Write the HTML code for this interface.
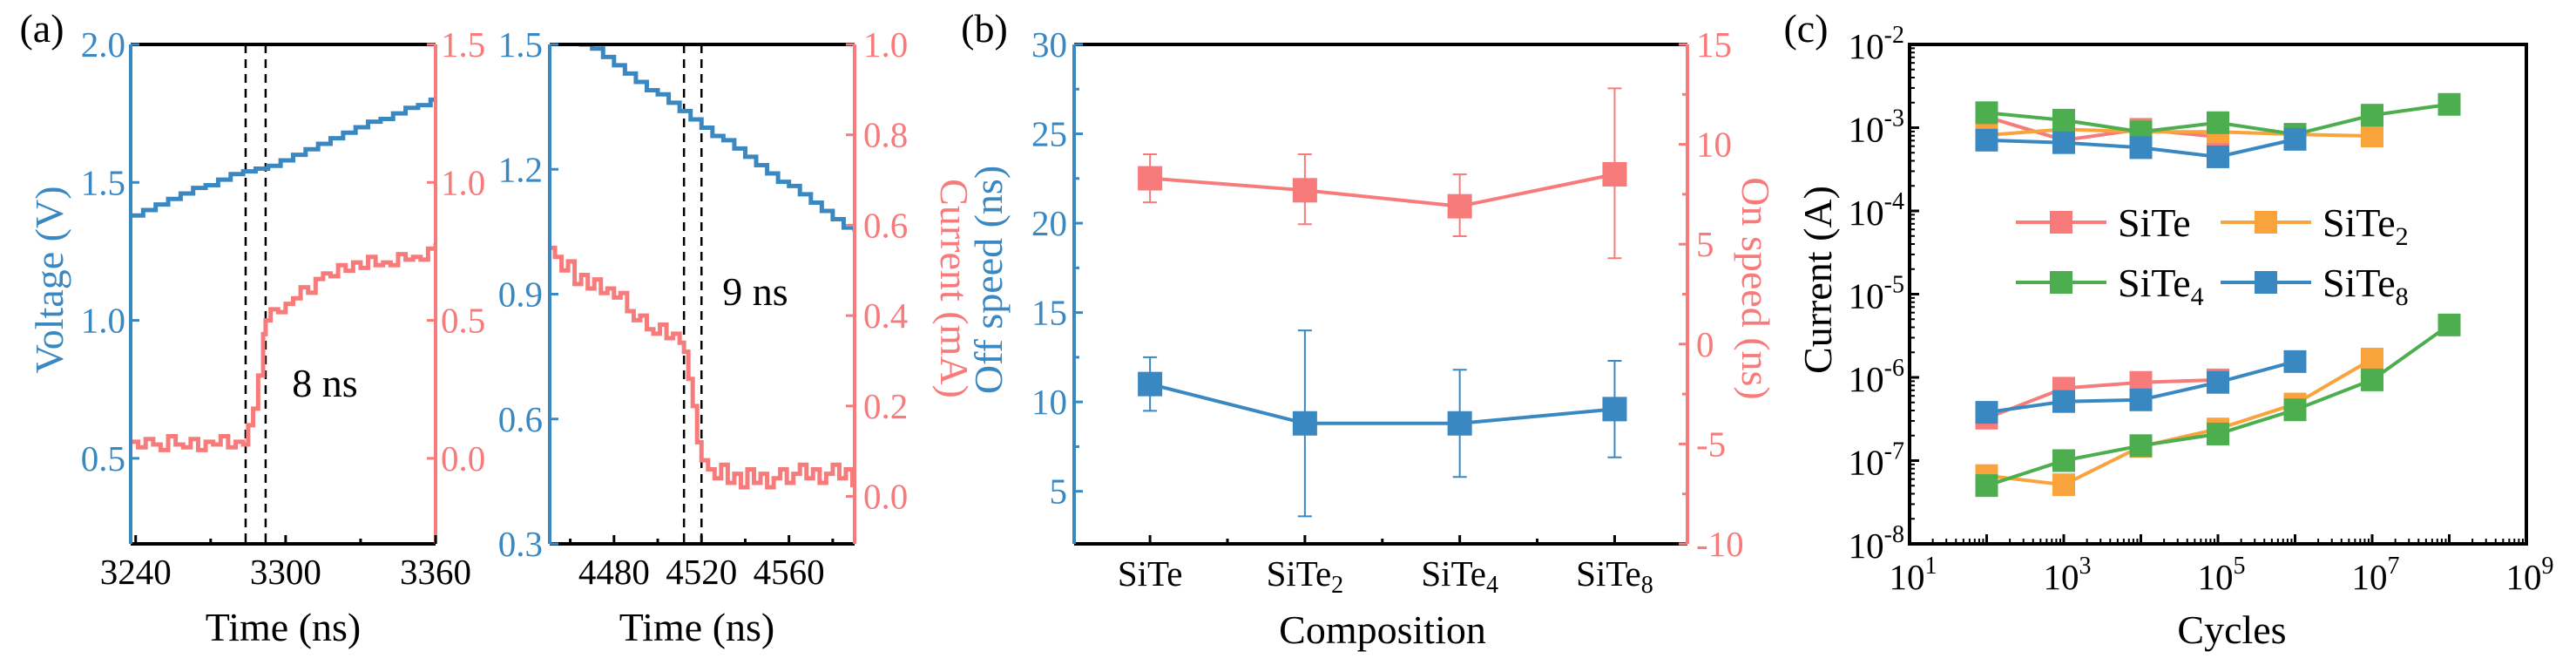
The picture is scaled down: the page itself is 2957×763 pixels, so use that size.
<!DOCTYPE html>
<html><head><meta charset="utf-8"><style>
html,body{margin:0;padding:0;background:#fff;}
svg{display:block;}
text{font-family:"Liberation Serif","DejaVu Serif",serif;}
</style></head><body>
<svg id="fig" width="2957" height="763" viewBox="0 0 2957 763" xmlns="http://www.w3.org/2000/svg" font-family="Liberation Serif, DejaVu Serif, serif"></svg>
<script>
// ---------- DATA ----------
const a1BlueT=[3238,3243,3248,3253,3258,3263,3268,3273,3278,3283,3288,3293,3298,3303,3308,3313,3318,3323,3328,3333,3338,3343,3348,3353,3358,3360];
const a1BlueV=[1.38,1.40,1.42,1.44,1.46,1.48,1.49,1.51,1.53,1.54,1.55,1.56,1.58,1.60,1.62,1.64,1.66,1.68,1.70,1.72,1.73,1.75,1.77,1.78,1.80,1.80];
const a1RedT=[3238,3241,3244,3247,3250,3253,3256,3259,3262,3265,3268,3271,3274,3277,3280,3283,3285,3287,3289,3291,3292,3294,3297,3300,3303,3306,3309,3312,3315,3318,3321,3324,3327,3330,3333,3336,3339,3342,3345,3348,3351,3354,3357,3360];
const a1RedI=[0.06,0.04,0.07,0.05,0.03,0.08,0.05,0.04,0.07,0.03,0.06,0.05,0.08,0.04,0.06,0.05,0.12,0.18,0.30,0.45,0.50,0.54,0.53,0.56,0.58,0.62,0.60,0.65,0.67,0.66,0.70,0.68,0.71,0.69,0.73,0.70,0.71,0.70,0.74,0.72,0.73,0.72,0.76,0.78];
const a2BlueT=[4450,4455,4460,4465,4470,4475,4480,4485,4490,4495,4500,4505,4510,4515,4520,4525,4530,4535,4540,4545,4550,4555,4560,4565,4570,4575,4580,4585,4590];
const a2BlueV=[1.56,1.54,1.52,1.50,1.49,1.47,1.45,1.43,1.41,1.39,1.38,1.36,1.34,1.32,1.30,1.28,1.27,1.25,1.23,1.21,1.19,1.17,1.16,1.14,1.12,1.10,1.08,1.06,1.05];
const a2RedT=[4450,4453,4456,4459,4462,4465,4468,4471,4474,4477,4480,4483,4486,4489,4492,4495,4498,4501,4504,4507,4510,4512,4514,4516,4518,4520,4523,4526,4529,4532,4535,4538,4541,4544,4547,4550,4553,4556,4559,4562,4565,4568,4571,4574,4577,4580,4583,4586,4589];
const a2RedI=[0.55,0.53,0.50,0.52,0.47,0.49,0.46,0.48,0.45,0.46,0.44,0.45,0.41,0.39,0.40,0.37,0.36,0.38,0.35,0.36,0.34,0.32,0.26,0.20,0.12,0.08,0.06,0.04,0.07,0.03,0.05,0.02,0.06,0.03,0.05,0.02,0.04,0.06,0.03,0.05,0.07,0.04,0.06,0.03,0.05,0.07,0.04,0.06,0.02];
const bCats=["SiTe","SiTe","SiTe","SiTe"];
const bSubs=["","2","4","8"];
const bOff=[11.0,8.8,8.8,9.6];
const bOffErr=[1.5,5.2,3.0,2.7];
const bOn=[8.3,7.7,6.9,8.5];
const bOnHi=[9.5,9.5,8.5,12.8];
const bOnLo=[7.1,6.0,5.4,4.3];
const cXTicks=[1,3,5,7,9];
const cCyclesSiTe=[2,3,4,5];
const cHighSiTe=[-2.87,-3.15,-3.02,-3.11];
const cLowSiTe=[-6.49,-6.13,-6.06,-6.03];
const cCyclesSiTe2=[2,3,4,5,6,7];
const cHighSiTe2=[-3.09,-3.02,-3.05,-3.05,-3.08,-3.10];
const cLowSiTe2=[-7.18,-7.29,-6.83,-6.62,-6.32,-5.78];
const cCyclesSiTe4=[2,3,4,5,6,7,8];
const cHighSiTe4=[-2.82,-2.91,-3.05,-2.94,-3.08,-2.85,-2.72];
const cLowSiTe4=[-7.30,-7.00,-6.82,-6.68,-6.39,-6.03,-5.37];
const cCyclesSiTe8=[2,3,4,5,6];
const cHighSiTe8=[-3.15,-3.18,-3.24,-3.35,-3.14];
const cLowSiTe8=[-6.42,-6.29,-6.27,-6.06,-5.81];

// ---------- HELPERS ----------
const NS="http://www.w3.org/2000/svg";
const svg=document.getElementById('fig');
const BLUE="#3a88c2",RED="#f77b7b",ORANGE="#f9a33c",GREEN="#4cae4f";
const FONT="'Liberation Serif','DejaVu Serif',serif";
function mk(tag,attrs,parent){const e=document.createElementNS(NS,tag);for(const k in attrs)e.setAttribute(k,attrs[k]);(parent||svg).appendChild(e);return e;}
function txt(x,y,s,opt,parent){const a={x:x,y:y,'font-size':opt.size||40,fill:opt.fill||'#000','text-anchor':opt.anchor||'middle','font-family':FONT};if(opt.transform)a.transform=opt.transform;const e=mk('text',a,parent);e.textContent=s;return e;}
function lin(d0,d1,r0,r1){return v=>r0+(v-d0)*(r1-r0)/(d1-d0);}
function stepPath(xs,ys,sx,sy){let d='';for(let i=0;i<xs.length;i++){const X=sx(xs[i]),Y=sy(ys[i]);if(i===0)d+='M'+X+' '+Y;else{d+=' H'+X+' V'+Y;}}return d;}
function grp(name){const g=mk('g',{});return g;}
function clip(id,x,y,w,h){const cp=mk('clipPath',{id:id});mk('rect',{x:x,y:y,width:w,height:h},cp);}

const T=51,B=624;

// ---------- PANEL A1 ----------
(function(){
const L=150,R=500;
const g=grp('panel-a-left');
clip('ca1',L,T,R-L,B-T);
const sx=lin(3238,3360,L,R), sv=lin(0.19,2.0,B,T), si=lin(-0.31,1.5,B,T);
[3284,3292].forEach(t=>{const l=mk('line',{x1:sx(t),x2:sx(t),y1:T,y2:B,stroke:'#000','stroke-width':2.5,'stroke-dasharray':'10,7'},g);});
const pb=mk('path',{d:stepPath(a1BlueT,a1BlueV,sx,sv),fill:'none',stroke:BLUE,'stroke-width':5,'clip-path':'url(#ca1)'},g);

const pr=mk('path',{d:stepPath(a1RedT,a1RedI,sx,si),fill:'none',stroke:RED,'stroke-width':5,'clip-path':'url(#ca1)'},g);

mk('line',{x1:L,x2:R,y1:T,y2:T,stroke:'#000','stroke-width':4},g);
mk('line',{x1:L,x2:R,y1:B,y2:B,stroke:'#000','stroke-width':4},g);
mk('line',{x1:L,x2:L,y1:T,y2:B,stroke:BLUE,'stroke-width':4},g);
mk('line',{x1:R,x2:R,y1:T,y2:B,stroke:RED,'stroke-width':4},g);
[3240,3300,3360].forEach(t=>{mk('line',{x1:sx(t),x2:sx(t),y1:B,y2:B-10,stroke:'#000','stroke-width':3},g);txt(sx(t),670,String(t),{size:41},g);});
[3270,3330].forEach(t=>mk('line',{x1:sx(t),x2:sx(t),y1:B,y2:B-6,stroke:'#000','stroke-width':3},g));
[0.5,1.0,1.5,2.0].forEach(v=>{mk('line',{x1:L,x2:L+10,y1:sv(v),y2:sv(v),stroke:BLUE,'stroke-width':3},g);txt(L-6,sv(v)+14,v.toFixed(1),{size:41,fill:BLUE,anchor:'end'},g);});
[0.0,0.5,1.0,1.5].forEach(v=>{mk('line',{x1:R,x2:R-10,y1:si(v),y2:si(v),stroke:RED,'stroke-width':3},g);txt(R+6,si(v)+14,v.toFixed(1),{size:41,fill:RED,anchor:'start'},g);});
txt(325,735,'Time (ns)',{size:46},g);
txt(72,321,'Voltage (V)',{size:46,fill:BLUE,transform:'rotate(-90 72 321)'},g);
txt(373,455,'8 ns',{size:46},g);
txt(48,48,'(a)',{size:46},g);
})();

// ---------- PANEL A2 ----------
(function(){
const L=631,R=981;
const g=grp('panel-a-right');
clip('ca2',L,T,R-L,B-T);
const sx=lin(4450.6,4590,L,R), sv=lin(0.3,1.5,B,T), si=lin(-0.105,1.0,B,T);
[4512,4520].forEach(t=>{const l=mk('line',{x1:sx(t),x2:sx(t),y1:T,y2:B,stroke:'#000','stroke-width':2.5,'stroke-dasharray':'10,7'},g);});
const pb=mk('path',{d:stepPath(a2BlueT,a2BlueV,sx,sv),fill:'none',stroke:BLUE,'stroke-width':5,'clip-path':'url(#ca2)'},g);

const pr=mk('path',{d:stepPath(a2RedT,a2RedI,sx,si),fill:'none',stroke:RED,'stroke-width':5,'clip-path':'url(#ca2)'},g);

mk('line',{x1:L,x2:R,y1:T,y2:T,stroke:'#000','stroke-width':4},g);
mk('line',{x1:L,x2:R,y1:B,y2:B,stroke:'#000','stroke-width':4},g);
mk('line',{x1:L,x2:L,y1:T,y2:B,stroke:BLUE,'stroke-width':4},g);
mk('line',{x1:R,x2:R,y1:T,y2:B,stroke:RED,'stroke-width':4},g);
[4480,4520,4560].forEach(t=>{mk('line',{x1:sx(t),x2:sx(t),y1:B,y2:B-10,stroke:'#000','stroke-width':3},g);txt(sx(t),670,String(t),{size:41},g);});
[4460,4500,4540,4580].forEach(t=>mk('line',{x1:sx(t),x2:sx(t),y1:B,y2:B-6,stroke:'#000','stroke-width':3},g));
[0.3,0.6,0.9,1.2,1.5].forEach(v=>{mk('line',{x1:L,x2:L+10,y1:sv(v),y2:sv(v),stroke:BLUE,'stroke-width':3},g);txt(L-8,sv(v)+14,v.toFixed(1),{size:41,fill:BLUE,anchor:'end'},g);});
[0.0,0.2,0.4,0.6,0.8,1.0].forEach(v=>{mk('line',{x1:R,x2:R-10,y1:si(v),y2:si(v),stroke:RED,'stroke-width':3},g);txt(R+10,si(v)+14,v.toFixed(1),{size:41,fill:RED,anchor:'start'},g);});
txt(800,735,'Time (ns)',{size:46},g);
txt(1080,331,'Current (mA)',{size:46,fill:RED,transform:'rotate(90 1080 331)'},g);
txt(867,350,'9 ns',{size:46},g);
})();

// ---------- PANEL B ----------
(function(){
const L=1233,R=1937;
const g=grp('panel-b');
const sx=lin(-0.49,3.47,L,R), so=lin(2.06,30,B,T), sn=lin(-10,15,B,T);
mk('line',{x1:L,x2:R,y1:T,y2:T,stroke:'#000','stroke-width':4},g);
mk('line',{x1:L,x2:R,y1:B,y2:B,stroke:'#000','stroke-width':4},g);
mk('line',{x1:L,x2:L,y1:T,y2:B,stroke:BLUE,'stroke-width':4},g);
mk('line',{x1:R,x2:R,y1:T,y2:B,stroke:RED,'stroke-width':4},g);
[5,10,15,20,25,30].forEach(v=>{mk('line',{x1:L,x2:L+10,y1:so(v),y2:so(v),stroke:BLUE,'stroke-width':3},g);txt(L-8,so(v)+14,String(v),{size:41,fill:BLUE,anchor:'end'},g);});
[7.5,12.5,17.5,22.5,27.5].forEach(v=>mk('line',{x1:L,x2:L+6,y1:so(v),y2:so(v),stroke:BLUE,'stroke-width':3},g));
[-10,-5,0,5,10,15].forEach(v=>{mk('line',{x1:R,x2:R-10,y1:sn(v),y2:sn(v),stroke:RED,'stroke-width':3},g);txt(R+10,sn(v)+14,String(v),{size:41,fill:RED,anchor:'start'},g);});
[-7.5,-2.5,2.5,7.5,12.5].forEach(v=>mk('line',{x1:R,x2:R-6,y1:sn(v),y2:sn(v),stroke:RED,'stroke-width':3},g));
bCats.forEach((c,i)=>{mk('line',{x1:sx(i),x2:sx(i),y1:B,y2:B-10,stroke:'#000','stroke-width':3},g);
 const t=txt(sx(i),672,c,{size:41},g);if(bSubs[i]){const s=mk('tspan',{'font-size':28,dy:8},t);s.textContent=bSubs[i];}
 });
[0.5,1.5,2.5].forEach(i=>mk('line',{x1:sx(i),x2:sx(i),y1:B,y2:B-6,stroke:'#000','stroke-width':3},g));
function series(vals,lo,hi,sy,col,name){
 const pts=vals.map((v,i)=>sx(i)+','+sy(v)).join(' ');
 const pl=mk('polyline',{points:pts,fill:'none',stroke:col,'stroke-width':4},g);
 
 vals.forEach((v,i)=>{const x=sx(i);
  mk('line',{x1:x,x2:x,y1:sy(hi[i]),y2:sy(lo[i]),stroke:col,'stroke-width':2},g);
  mk('line',{x1:x-8,x2:x+8,y1:sy(hi[i]),y2:sy(hi[i]),stroke:col,'stroke-width':2},g);
  mk('line',{x1:x-8,x2:x+8,y1:sy(lo[i]),y2:sy(lo[i]),stroke:col,'stroke-width':2},g);
  const r=mk('rect',{x:x-14,y:sy(v)-14,width:28,height:28,fill:col},g);
  });
}
series(bOff,bOff.map((v,i)=>v-bOffErr[i]),bOff.map((v,i)=>v+bOffErr[i]),so,BLUE,'off-speed');
series(bOn,bOnLo,bOnHi,sn,RED,'on-speed');
txt(1587,738,'Composition',{size:46},g);
txt(1150,321,'Off speed (ns)',{size:46,fill:BLUE,transform:'rotate(-90 1150 321)'},g);
txt(2000,331,'On speed (ns)',{size:46,fill:RED,transform:'rotate(90 2000 331)'},g);
txt(1130,48,'(b)',{size:46},g);
})();

// ---------- PANEL C ----------
(function(){
const L=2192,R=2900;
const g=grp('panel-c');
clip('cc',L,T,R-L,B-T);
const sx=lin(1,9,L,R), sy=lin(-8,-2,B,T);
mk('rect',{x:L,y:T,width:R-L,height:B-T,fill:'none',stroke:'#000','stroke-width':4},g);
for(let d=1;d<9;d++){for(let k=2;k<10;k++){const x=sx(d+Math.log10(k));mk('line',{x1:x,x2:x,y1:B,y2:B-6,stroke:'#000','stroke-width':2},g);}}
for(let d=-8;d<-2;d++){for(let k=2;k<10;k++){const y=sy(d+Math.log10(k));mk('line',{x1:L,x2:L+6,y1:y,y2:y,stroke:'#000','stroke-width':2},g);}}
for(let d=1;d<=9;d++){const x=sx(d);mk('line',{x1:x,x2:x,y1:B,y2:B-11,stroke:'#000','stroke-width':3},g);}
cXTicks.forEach(d=>{const x=sx(d);
 const t=txt(x+4,676,'10',{size:41},g);const s=mk('tspan',{'font-size':28,dy:-18},t);s.textContent=String(d);});
for(let d=-8;d<=-2;d++){const y=sy(d);mk('line',{x1:L,x2:L+11,y1:y,y2:y,stroke:'#000','stroke-width':3},g);
 const t=txt(L-6,y+16,'10',{size:41,anchor:'end'},g);const s=mk('tspan',{'font-size':28,dy:-18},t);s.textContent=String(d);}
const defs=[[cCyclesSiTe,cHighSiTe,cLowSiTe,RED,'site'],[cCyclesSiTe2,cHighSiTe2,cLowSiTe2,ORANGE,'site2'],[cCyclesSiTe4,cHighSiTe4,cLowSiTe4,GREEN,'site4'],[cCyclesSiTe8,cHighSiTe8,cLowSiTe8,BLUE,'site8']];
defs.forEach(([cx,hi,lo,col,name])=>{
 [hi,lo].forEach((arr,j)=>{
  const pl=mk('polyline',{points:arr.map((v,i)=>sx(cx[i])+','+sy(v)).join(' '),fill:'none',stroke:col,'stroke-width':4,'clip-path':'url(#cc)'},g);
  
  arr.forEach((v,i)=>{const r=mk('rect',{x:sx(cx[i])-13,y:sy(v)-13,width:26,height:26,fill:col},g);
   });
 });
});
const lg=grp('legend');g.appendChild(lg);
const ent=[[2314,255,RED,'SiTe',''],[2549,255,ORANGE,'SiTe','2'],[2314,324,GREEN,'SiTe','4'],[2549,324,BLUE,'SiTe','8']];
ent.forEach(([x,y,col,s,sub])=>{
 const e=grp('legend-entry');lg.appendChild(e);
 mk('line',{x1:x,x2:x+104,y1:y,y2:y,stroke:col,'stroke-width':4},e);
 mk('rect',{x:x+39,y:y-13,width:26,height:26,fill:col},e);
 const t=txt(x+117,y+16,s,{size:46,anchor:'start'},e);
 if(sub){const sp=mk('tspan',{'font-size':30,dy:10},t);sp.textContent=sub;}
});
txt(2562,738,'Cycles',{size:46},g);
txt(2102,321,'Current (A)',{size:46,transform:'rotate(-90 2102 321)'},g);
txt(2073,48,'(c)',{size:46},g);
})();
</script>
</body></html>
